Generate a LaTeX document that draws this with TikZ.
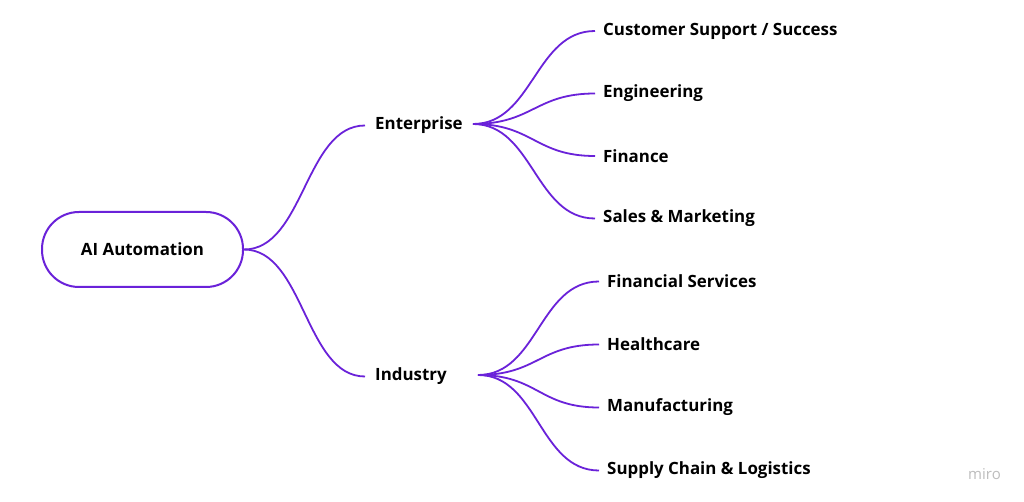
\documentclass[tikz,border=0pt]{standalone}
\usepackage{fontspec}
\setmainfont{Open Sans}
\definecolor{mpurple}{HTML}{6A22D9}
\definecolor{mirogray}{HTML}{BDBDBD}
\begin{document}
\begin{tikzpicture}[x=1pt,y=-1pt,
  lbl/.style={anchor=west,inner xsep=8pt,inner ysep=0pt,font=\fontsize{16.9}{20}\selectfont\bfseries,text=black},
  conn/.style={draw=mpurple,line width=1.8pt},
  rootbox/.style={draw=mpurple,line width=2pt,rounded corners=37pt,minimum width=201pt,minimum height=75pt,font=\fontsize{16.9}{20}\selectfont\bfseries}]
\useasboundingbox[fill=white] (0,0) rectangle (1024,502);
\node[rootbox] (root) at (142.5,249.5) {AI Automation};
\node[lbl,inner xsep=10pt] (ent) at (365,125.5) {Enterprise};
\node[lbl,inner xsep=10pt] (ind) at (365,376.5) {Industry};
\coordinate (enthub) at (473,124);
\coordinate (indhub) at (478,375);
\node[lbl] (e1) at (595,31) {Customer Support / Success};
\node[lbl] (e2) at (595,93.5) {Engineering};
\node[lbl] (e3) at (595,156) {Finance};
\node[lbl] (e4) at (595,218.5) {Sales \& Marketing};
\node[lbl] (i1) at (599,281.5) {Financial Services};
\node[lbl] (i2) at (599,344.5) {Healthcare};
\node[lbl] (i3) at (599,407.5) {Manufacturing};
\node[lbl] (i4) at (599,470.5) {Supply Chain \& Logistics};
\node[text=mirogray,font=\fontsize{15}{18}\selectfont,inner sep=0pt] (miro) at (984.5,474) {miro};
\draw[conn] (root.east) .. controls +(60,0) and +(-60,0) .. (ent.west);
\draw[conn] (root.east) .. controls +(60,0) and +(-60,0) .. (ind.west);
\foreach \t in {e1,e2,e3,e4}{
  \draw[conn] (enthub) .. controls +(60,0) and +(-60,0) .. (\t.west);
}
\foreach \t in {i1,i2,i3,i4}{
  \draw[conn] (indhub) .. controls +(60,0) and +(-60,0) .. (\t.west);
}
\end{tikzpicture}
\end{document}
